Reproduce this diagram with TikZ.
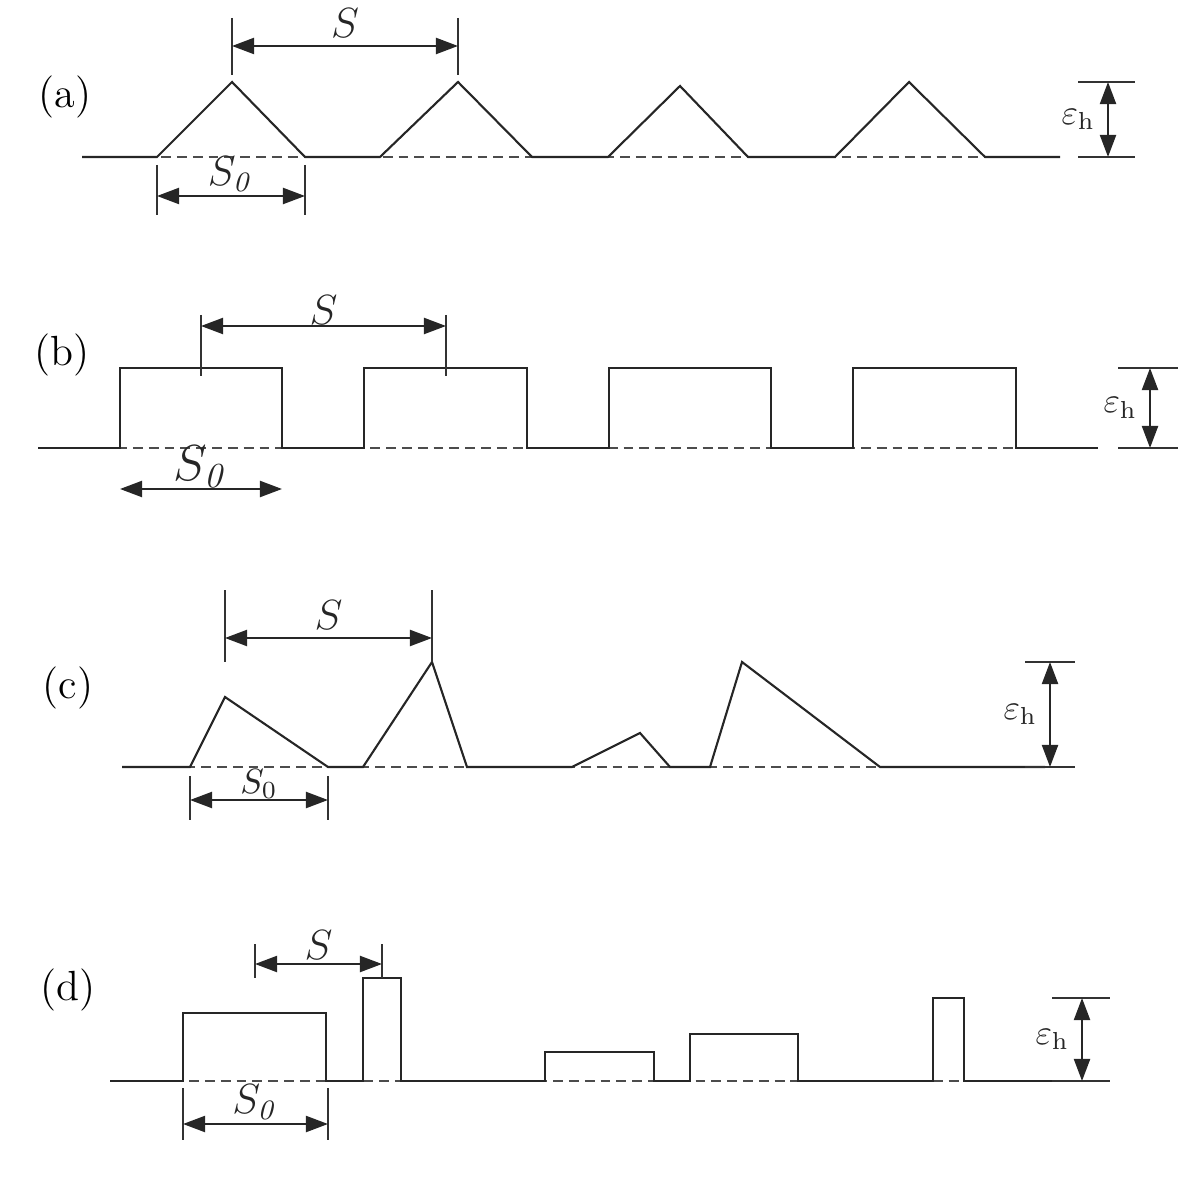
\documentclass[tikz,border=0pt]{standalone}
\usepackage{amsmath,amssymb}
\usepackage{tikz}
\usetikzlibrary{arrows.meta,positioning,calc}
\tikzset{
  profln/.style={line width=0.6pt, black!85, line join=miter},
  baseln/.style={dash pattern=on 2.8pt off 1.7pt, line width=0.5pt, black!70},
  extln/.style={line width=0.5pt, black!80},
  dimln/.style={{Triangle[length=2.2mm,width=1.6mm]}-{Triangle[length=2.2mm,width=1.6mm]}, line width=0.6pt, black!85},
  panel/.style={font=\large, inner sep=0pt},
  dimlbl/.style={font=\large, inner sep=2pt},
  sizelbl/.style={font=\Large, inner sep=1pt},
}
\newcommand{\epsh}{$\varepsilon_{\mathrm{h}}$}

\begin{document}
\begin{tikzpicture}[x=0.01cm, y=-0.01cm]
    \useasboundingbox (0,0) rectangle (1198,1201);

    % (a) triangular profile
    \node[panel] (la) at (65,97) {(a)};
    \draw[baseln] (82,157) -- (1060,157);
    \draw[profln] (82,157) -- (157,157) -- (232,82) -- (305,157) -- (380,157) -- (458,82) -- (532,157)
      -- (608,157) -- (680,86) -- (748,157) -- (835,157) -- (909,82) -- (985,157) -- (1060,157);
    \draw[extln] (232,18) -- (232,75) (458,18) -- (458,75);
    \coordinate (aSl) at (232,46); \coordinate (aSr) at (458,46);
    \draw[dimln] (aSl) -- node[dimlbl, above] (aS) {$S$} (aSr);
    \draw[extln] (157,165) -- (157,215) (305,165) -- (305,215);
    \coordinate (aS0l) at (157,196); \coordinate (aS0r) at (305,196);
    \draw[dimln] (aS0l) -- node[dimlbl, above=-1pt] (aS0) {$S_{\mathit{0}}$} (aS0r);
    \draw[extln] (1078,82) -- (1135,82) (1078,157) -- (1135,157);
    \coordinate (aEt) at (1108,82); \coordinate (aEb) at (1108,157);
    \draw[dimln] (aEt) -- node[left=0pt] (aE) {\epsh} (aEb);

    % (b) rectangular profile
    \node[panel] (lb) at (62,355) {(b)};
    \draw[baseln] (38,448) -- (1098,448);
    \draw[profln] (38,448) -- (120,448) |- (282,368) -- (282,448) -- (364,448) |- (527,368) -- (527,448)
      -- (609,448) |- (771,368) -- (771,448) -- (853,448) |- (1016,368) -- (1016,448) -- (1098,448);
    \draw[extln] (201,315) -- (201,376) (446,315) -- (446,376);
    \coordinate (bSl) at (201,326); \coordinate (bSr) at (446,326);
    \draw[dimln] (bSl) -- node[dimlbl, above=-2pt] (bS) {$S$} (bSr);
    \coordinate (bS0l) at (120,489); \coordinate (bS0r) at (282,489);
    \draw[dimln] (bS0l) -- node[sizelbl, above=-1pt] (bS0) {$S_{\mathit{0}}$} (bS0r);
    \draw[extln] (1118,368) -- (1178,368) (1118,448) -- (1178,448);
    \coordinate (bEt) at (1150,368); \coordinate (bEb) at (1150,448);
    \draw[dimln] (bEt) -- node[left=0pt] (bE) {\epsh} (bEb);

    % (c) irregular triangles
    \node[panel] (lc) at (68,688) {(c)};
    \draw[baseln] (122,767) -- (1045,767);
    \draw[profln] (122,767) -- (190,767) -- (225,697) -- (328,767) -- (363,767) -- (432,662) -- (467,767)
      -- (572,767) -- (640,733) -- (670,767) -- (710,767) -- (742,662) -- (880,767) -- (1045,767);
    \draw[extln] (225,590) -- (225,662) (432,590) -- (432,662);
    \coordinate (cSl) at (225,638); \coordinate (cSr) at (432,638);
    \draw[dimln] (cSl) -- node[dimlbl, above] (cS) {$S$} (cSr);
    \draw[extln] (190,776) -- (190,820) (328,776) -- (328,820);
    \coordinate (cS0l) at (190,800); \coordinate (cS0r) at (328,800);
    \draw[dimln] (cS0l) -- node[inner sep=1pt, above=-1pt] (cS0) {$S_0$} (cS0r);
    \draw[extln] (1025,662) -- (1075,662) (1025,767) -- (1075,767);
    \coordinate (cEt) at (1050,662); \coordinate (cEb) at (1050,767);
    \draw[dimln] (cEt) -- node[left=0pt] (cE) {\epsh} (cEb);

    % (d) irregular rectangles
    \node[panel] (ld) at (68,990) {(d)};
    \draw[baseln] (110,1081) -- (1052,1081);
    \draw[profln] (110,1081) -- (183,1081) |- (326,1013) -- (326,1081) -- (363,1081) |- (401,978) -- (401,1081)
      -- (545,1081) |- (654,1052) -- (654,1081) -- (690,1081) |- (798,1034) -- (798,1081)
      -- (933,1081) |- (964,998) -- (964,1081) -- (1052,1081);
    \draw[extln] (255,944) -- (255,978) (382,944) -- (382,978);
    \coordinate (dSl) at (255,964); \coordinate (dSr) at (382,964);
    \draw[dimln] (dSl) -- node[dimlbl, above=-1pt] (dS) {$S$} (dSr);
    \draw[extln] (183,1088) -- (183,1140) (328,1088) -- (328,1140);
    \coordinate (dS0l) at (183,1124); \coordinate (dS0r) at (328,1124);
    \draw[dimln] (dS0l) -- node[dimlbl, above=-1pt] (dS0) {$S_{\mathit{0}}$} (dS0r);
    \draw[extln] (1052,998) -- (1110,998) (1052,1081) -- (1110,1081);
    \coordinate (dEt) at (1082,998); \coordinate (dEb) at (1082,1081);
    \draw[dimln] (dEt) -- node[left=0pt] (dE) {\epsh} (dEb);
\end{tikzpicture}
\end{document}
